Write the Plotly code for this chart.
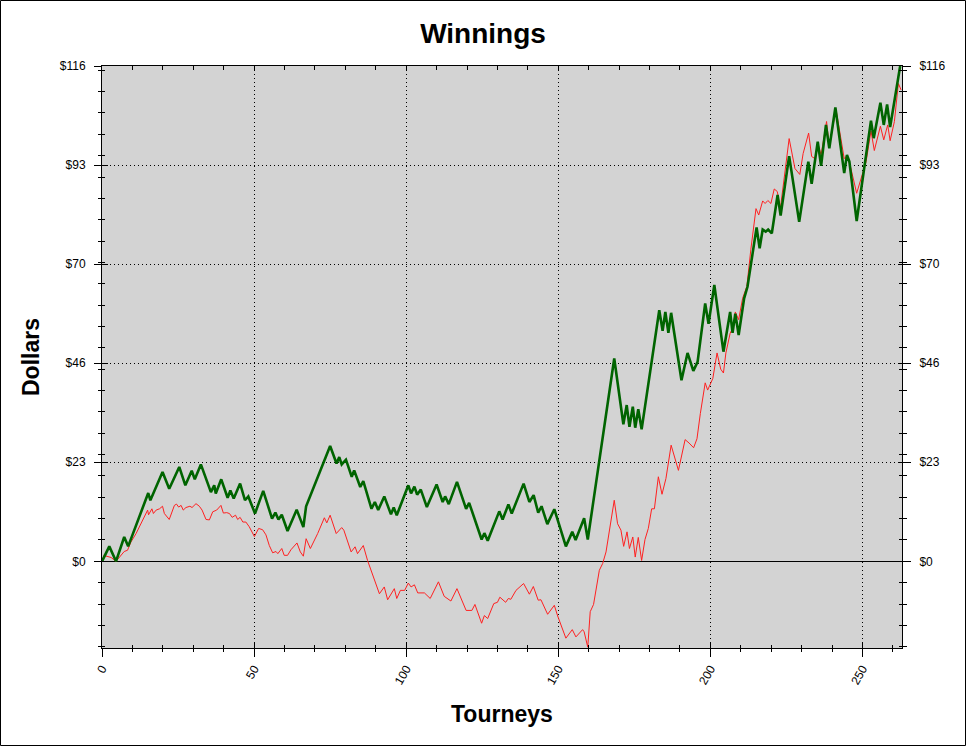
import plotly.graph_objects as go

# ---- data ----
green_x = [0, 2.4, 4.6, 7.3, 8.6, 15.2, 15.9, 19.9, 22.1, 25.4, 27.4, 29.5, 30.5, 32.5, 35.8, 36.9, 37.4,
           39.2, 41.3, 42.2, 43.3, 45.4, 47.0, 48.1, 50.3, 53.0, 55.9, 57.0, 58.0, 59.1, 61.0, 64.0, 66.2,
           67.1, 75.0, 77.1, 78.0, 78.8, 80.2, 82.1, 82.9, 84.9, 85.9, 88.6, 89.7, 90.8, 92.8, 95.0, 95.9,
           96.9, 100.7, 101.6, 102.7, 103.6, 104.8, 106.8, 110.0, 112.0, 112.8, 114.0, 116.7, 119.7, 120.7,
           124.8, 125.7, 126.8, 130.6, 131.7, 133.6, 134.7, 138.6, 140.5, 141.9, 143.4, 144.5, 146.4, 148.7,
           152.5, 154.6, 155.7, 158.5, 159.7, 168.4, 171.4, 172.5, 173.4, 174.5, 175.3, 176.3, 177.4, 183.2,
           184.3, 185.2, 186.2, 187.1, 190.5, 192.5, 194.4, 195.8, 198.3, 199.4, 201.3, 204.3, 206.5, 207.3,
           208.2, 209.3, 211.1, 212.2, 215.2, 216.2, 217.2, 218.2, 219.0, 220.2, 222.1, 223.1, 225.9, 229.2,
           232.2, 233.3, 235.3, 236.4, 238.0, 239.1, 241.1, 244.0, 244.9, 245.7, 248.1, 252.8, 253.7, 255.9,
           257.0, 258.1, 259.1, 262.4]
green_y = [0, 3.5, 0, 5.7, 3.5, 16, 14.3, 20.9, 17, 22.1, 17.8, 21.2, 19.2, 22.7, 16.2, 17.8, 15.9,
           19.2, 14.9, 16.6, 14.7, 18.2, 14.3, 15.2, 11.2, 16.5, 10.0, 11.4, 9.8, 10.9, 7.1, 12.1, 8.0,
           12.9, 27.0, 22.9, 24.4, 22.7, 23.8, 19.8, 21.3, 17.4, 18.8, 12.3, 13.9, 12.0, 15.2, 11.0, 12.6,
           10.8, 17.8, 15.9, 17.5, 15.6, 16.8, 12.7, 18.0, 13.9, 15.2, 13.4, 18.6, 12.3, 13.7,
           5.1, 6.6, 4.8, 11.7, 9.8, 13.3, 11.2, 18.2, 13.9, 15.5, 11.4, 12.9, 8.7, 12.2,
           3.5, 6.9, 5.0, 10.1, 5.1, 47.5, 32.1, 36.6, 31.5, 36.2, 31.3, 35.6, 30.9, 58.8,
           54.0, 58.4, 53.5, 58.2, 42.4, 48.8, 44.6, 46.7, 60.4, 55.6, 64.7, 49.1, 58.4, 53.5,
           58.0, 53.0, 61.6, 64.3, 78.2, 73.3, 77.7, 77.2, 77.7, 76.8, 85.8, 81.0, 94.9, 79.5,
           93.6, 88.4, 98.3, 92.6, 102.2, 96.7, 106.3, 90.9, 95.2, 93.6, 79.7, 103.2, 99.1, 107.4,
           102.2, 107.0, 101.7, 116.0]

red_x = [0.5, 1.9, 3.0, 4.6, 5.9, 7.3, 8.4, 9.5, 11.2, 12.8, 14.2, 15.0, 15.3, 16.4, 16.9, 17.8, 18.9,
         19.9, 20.5, 22.1, 23.8, 24.5, 25.2, 26.0, 26.7, 27.6, 28.9, 29.6, 30.9, 32.0, 32.9, 34.2, 35.3,
         36.4, 37.7, 39.1, 39.9, 41.0, 41.9, 42.8, 43.9, 44.6, 45.4, 46.3, 47.3, 48.4, 50.1, 51.5, 52.8,
         53.9, 55.0, 56.1, 57.2, 57.8, 59.1, 59.9, 61.0, 62.1, 64.1, 65.2, 66.2, 67.1, 68.5, 70.9, 73.1,
         73.9, 75.0, 77.0, 78.8, 79.5, 81.9, 83.2, 84.0, 85.9, 87.3, 91.2, 92.8, 93.9, 96.1, 96.9, 98.1,
         99.5, 100.7, 101.6, 102.7, 103.8, 106.0, 107.9, 110.6, 112.5, 114.7, 116.7, 119.7, 121.6, 122.6,
         124.8, 125.7, 126.8, 128.8, 130.0, 130.8, 131.7, 132.7, 133.6, 134.4, 136.1, 138.6, 140.5, 141.8,
         143.4, 144.3, 146.5, 148.7, 149.8, 152.5, 154.6, 155.8, 158.0, 158.5, 159.7, 160.5, 161.6, 163.5,
         164.6, 165.7, 168.4, 169.5, 170.6, 171.5, 172.6, 173.4, 174.5, 175.3, 176.3, 177.4, 178.5, 179.6,
         180.7, 181.6, 182.9, 184.1, 185.4, 187.1, 189.5, 191.7, 193.0, 194.5, 195.6, 196.7, 198.3, 199.1,
         200.8, 202.2, 203.4, 204.3, 205.1, 206.5, 207.5, 208.2, 209.3, 210.6, 212.0, 213.3, 215.0, 215.9,
         217.2, 218.0, 218.9, 219.9, 221.0, 222.0, 223.0, 225.9, 227.8, 229.4, 230.5, 232.3, 233.3, 234.4,
         235.3, 236.4, 238.2, 239.1, 241.3, 243.2, 244.0, 244.9, 246.0, 248.1, 249.5, 251.2, 252.8, 253.9,
         255.9, 257.0, 258.3, 259.1, 260.5, 261.8, 262.7]
red_y = [1.4, 1.2, 0.9, 0.0, 1.0, 2.3, 2.6, 4.5, 6.5, 8.8, 10.8, 12.0, 10.9, 12.3, 11.2, 12.0, 12.3,
         12.9, 11.2, 9.8, 13.1, 13.4, 12.7, 13.1, 12.0, 12.6, 12.9, 12.6, 13.5, 12.9, 12.0, 9.8, 9.7,
         11.6, 12.0, 13.1, 11.3, 11.4, 11.2, 10.3, 10.8, 9.8, 10.3, 9.2, 9.2, 8.1, 5.8, 7.7, 7.4,
         6.2, 3.7, 2.0, 2.3, 1.8, 3.0, 1.4, 1.4, 2.7, 4.3, 2.2, 1.2, 5.3, 3.0, 6.5, 10.2,
         9.0, 10.8, 6.5, 7.9, 7.3, 2.2, 3.4, 1.8, 3.7, 0.2, -7.6, -6.0, -9.0, -6.4, -8.7, -6.8,
         -6.8, -5.1, -6.0, -5.5, -7.4, -7.4, -8.7, -4.8, -8.2, -9.3, -6.4, -11.5, -11.5, -10.1,
         -14.5, -12.7, -13.4, -9.9, -9.6, -8.4, -8.9, -9.6, -8.7, -8.9, -6.8, -5.2, -7.7, -5.9,
         -9.1, -9.0, -12.4, -10.3, -12.8, -18.0, -16.0, -17.7, -16.0, -16.5, -20.1, -11.8, -10.1, -2.1,
         -0.5, 2.2, 14.3, 8.8, 7.3, 3.5, 6.9, 3.0, 5.7, 1.0, 5.6, 0.2, 5.1, 7.7,
         12.3, 12.3, 19.8, 15.7, 19.4, 27.2, 21.3, 28.5, 27.7, 26.6, 28.7, 34.6, 41.8, 40.1,
         42.8, 48.8, 45.0, 44.1, 48.8, 53.4, 54.9, 58.4, 56.6, 61.6, 64.4, 73.0, 82.6, 81.1,
         84.4, 83.8, 84.5, 83.8, 87.2, 86.6, 82.6, 99.0, 92.0, 90.6, 95.5, 100.3, 94.8, 94.3,
         98.0, 95.2, 103.0, 97.1, 105.9, 98.0, 94.3, 95.0, 92.6, 86.2, 89.3, 93.6, 100.8, 96.2,
         101.9, 98.7, 102.2, 98.5, 103.0, 111.9, 110.4]

y_tickvals = [0, 23.2, 46.4, 69.6, 92.8, 116]
y_ticktext = ["$0", "$23", "$46", "$70", "$93", "$116"]
x_tickvals = [0, 50, 100, 150, 200, 250]
x_ticktext = ["0", "50", "100", "150", "200", "250"]

X_RANGE = [0, 263]
Y_RANGE = [-20.3, 116]

FONT = "Liberation Sans, Arial, sans-serif"

fig = go.Figure()
fig.add_trace(go.Scatter(x=red_x, y=red_y, mode="lines",
                         line=dict(color="#FF2020", width=1), showlegend=False, hoverinfo="skip"))
fig.add_trace(go.Scatter(x=green_x, y=green_y, mode="lines",
                         line=dict(color="#006400", width=2.6), showlegend=False, hoverinfo="skip"))

# invisible copies so that the overlay (tick-only) axes get drawn
for xa, ya in [("x", "y2"), ("x", "y3"), ("x", "y4"), ("x2", "y"), ("x3", "y")]:
    fig.add_trace(go.Scatter(x=green_x, y=green_y, xaxis=xa, yaxis=ya, mode="lines",
                             line=dict(color="rgba(0,0,0,0)", width=0), opacity=0,
                             showlegend=False, hoverinfo="skip"))

tickfont = dict(family=FONT, size=12, color="black")
grid_common = dict(gridcolor="black", gridwidth=1, griddash="1px,3px")

fig.update_layout(
    width=966, height=746,
    margin=dict(l=102, r=64, t=66, b=98),
    paper_bgcolor="white",
    plot_bgcolor="#D3D3D3",
    showlegend=False,
    title=dict(text="<b>Winnings</b>", x=0.5, xanchor="center", y=1 - 33 / 746, yanchor="middle",
               font=dict(family=FONT, size=28, color="black")),
    xaxis=dict(range=X_RANGE, tickmode="array", tickvals=x_tickvals, ticktext=x_ticktext,
               ticks="outside", ticklen=8, tickcolor="black", tickwidth=1,
               minor=dict(tickmode="linear", tick0=0, dtick=10, ticks="outside", ticklen=3,
                          tickcolor="black", showgrid=False),
               showgrid=True, **grid_common, zeroline=False,
               showline=True, linecolor="black", linewidth=1,
               tickangle=-60, tickfont=tickfont),
    xaxis2=dict(range=X_RANGE, overlaying="x", anchor="y", side="bottom",
                tickmode="array", tickvals=x_tickvals, ticks="inside", ticklen=6, tickcolor="black",
                minor=dict(tickmode="linear", tick0=0, dtick=10, ticks="inside", ticklen=3, tickcolor="black"),
                showticklabels=False, showgrid=False, zeroline=False, showline=False),
    xaxis3=dict(range=X_RANGE, overlaying="x", anchor="y", side="top",
                tickmode="array", tickvals=x_tickvals, ticks="inside", ticklen=4, tickcolor="black",
                minor=dict(tickmode="linear", tick0=0, dtick=10, ticks="inside", ticklen=4, tickcolor="black"),
                showticklabels=False, showgrid=False, zeroline=False,
                showline=True, linecolor="black", linewidth=1),
    yaxis=dict(range=Y_RANGE, tickmode="array", tickvals=y_tickvals, ticktext=y_ticktext,
               ticks="outside", ticklen=7, tickcolor="black", tickwidth=1,
               minor=dict(tickmode="linear", tick0=0, dtick=5, ticks="outside", ticklen=3,
                          tickcolor="black", showgrid=False),
               showgrid=True, **grid_common,
               zeroline=True, zerolinecolor="black", zerolinewidth=1,
               showline=True, linecolor="black", linewidth=1,
               tickfont=tickfont, ticklabelstandoff=6),
    yaxis2=dict(range=Y_RANGE, overlaying="y", anchor="x", side="right",
                tickmode="array", tickvals=y_tickvals, ticktext=y_ticktext,
                ticks="outside", ticklen=8, tickcolor="black",
                minor=dict(tickmode="linear", tick0=0, dtick=5, ticks="outside", ticklen=4, tickcolor="black"),
                showgrid=False, zeroline=False,
                showline=True, linecolor="black", linewidth=1,
                tickfont=tickfont, ticklabelstandoff=6),
    yaxis3=dict(range=Y_RANGE, overlaying="y", anchor="x", side="left",
                tickmode="array", tickvals=y_tickvals, ticks="inside", ticklen=6, tickcolor="black",
                minor=dict(tickmode="linear", tick0=0, dtick=5, ticks="inside", ticklen=3, tickcolor="black"),
                showticklabels=False, showgrid=False, zeroline=False, showline=False),
    yaxis4=dict(range=Y_RANGE, overlaying="y", anchor="x", side="right",
                tickmode="array", tickvals=y_tickvals, ticks="inside", ticklen=4, tickcolor="black",
                minor=dict(tickmode="linear", tick0=0, dtick=5, ticks="inside", ticklen=3, tickcolor="black"),
                showticklabels=False, showgrid=False, zeroline=False, showline=False),
)

# axis titles
fig.add_annotation(text="<b>Tourneys</b>", xref="paper", yref="paper", x=0.5, y=(648 - 714) / 582,
                   xanchor="center", yanchor="middle", showarrow=False,
                   font=dict(family=FONT, size=23, color="black"))
fig.add_annotation(text="<b>Dollars</b>", xref="paper", yref="paper", x=(31 - 102) / 800, y=0.5,
                   xanchor="center", yanchor="middle", textangle=-90, showarrow=False,
                   font=dict(family=FONT, size=23, color="black"))

# outer frame around the whole image
fig.add_shape(type="rect", xref="paper", yref="paper",
              x0=(0.5 - 102) / 800, x1=(965.5 - 102) / 800,
              y0=(648 - 745.5) / 582, y1=(648 - 0.5) / 582,
              line=dict(color="black", width=1), fillcolor="rgba(0,0,0,0)", layer="above")

fig.write_html("out.html", config={"displayModeBar": False},
               post_script="document.body.style.margin='0px';document.body.style.overflow='hidden';")
